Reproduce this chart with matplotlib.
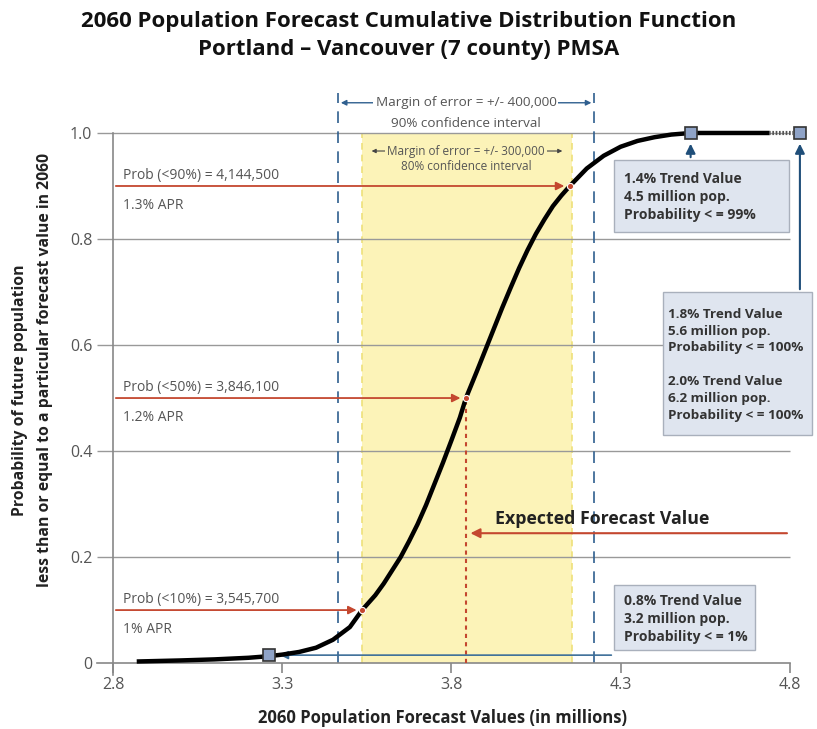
import numpy as np
import matplotlib
matplotlib.use('Agg')
import matplotlib.pyplot as plt
from matplotlib.patches import Rectangle

plt.rcParams['font.family'] = ['Open Sans', 'DejaVu Sans']

# CDF curve (population in millions, cumulative probability)
cdf_x = [2.87, 3.0, 3.1, 3.2, 3.26, 3.3, 3.35, 3.4, 3.45, 3.5, 3.536, 3.575, 3.6,
         3.625, 3.65, 3.675, 3.7, 3.725, 3.75, 3.775, 3.8, 3.825, 3.843, 3.875, 3.9,
         3.925, 3.95, 3.975, 4.0, 4.025, 4.05, 4.075, 4.1, 4.125, 4.15, 4.2, 4.25,
         4.3, 4.35, 4.4, 4.45, 4.507, 4.6, 4.74]
cdf_y = [0.003, 0.005, 0.007, 0.010, 0.013, 0.016, 0.021, 0.029, 0.044, 0.068, 0.10,
         0.128, 0.15, 0.175, 0.2, 0.23, 0.262, 0.298, 0.338, 0.378, 0.42, 0.463, 0.5,
         0.55, 0.59, 0.63, 0.67, 0.708, 0.745, 0.779, 0.81, 0.837, 0.862, 0.882, 0.9,
         0.933, 0.957, 0.974, 0.985, 0.992, 0.997, 1.0, 1.0, 1.0]

# probability markers
prob_x = [3.536, 3.843, 4.15]
prob_y = [0.1, 0.5, 0.9]
prob_label = ['Prob (<10%) = 3,545,700', 'Prob (<50%) = 3,846,100', 'Prob (<90%) = 4,144,500']
apr_label = ['1% APR', '1.2% APR', '1.3% APR']

# trend value squares
trend_x = [3.26, 4.507, 4.83]
trend_y = [0.015, 1.0, 1.0]

band80 = (3.536, 4.156)
band90 = (3.465, 4.222)
expected = 3.843

xticks = [2.8, 3.3, 3.8, 4.3, 4.8]
yticks = [0, 0.2, 0.4, 0.6, 0.8, 1.0]
ytick_labels = ['0', '0.2', '0.4', '0.6', '0.8', '1.0']

red = '#c4472f'
blue = '#1f4e79'
grey_txt = '#555555'
box_fc = '#dfe5ef'
box_ec = '#a9b0bc'

fig = plt.figure(figsize=(8.17, 7.29), dpi=100)
ax = fig.add_axes([0.1218, 0.0686, 0.8697, 0.8217])
ax.set_xlim(2.76, 4.86)
ax.set_ylim(-0.03, 1.1)

# axes
for s in ['top', 'right']:
    ax.spines[s].set_visible(False)
ax.spines['bottom'].set_position(('data', 0))
ax.spines['bottom'].set_bounds(2.753, 4.8)
ax.spines['left'].set_position(('data', 2.8))
ax.spines['left'].set_bounds(-0.023, 1.0)
for s in ['bottom', 'left']:
    ax.spines[s].set_color('#888888')
    ax.spines[s].set_linewidth(1.2)
ax.set_xticks(xticks)
ax.set_xticklabels([str(t) for t in xticks])
ax.set_yticks(yticks)
ax.set_yticklabels(ytick_labels)
ax.tick_params(axis='x', direction='out', length=7, color='#888888', width=1.2,
               labelsize=11.5, labelcolor=grey_txt, pad=3)
ax.tick_params(axis='y', length=0, labelsize=11.5, labelcolor=grey_txt, pad=15)

# gridlines
ax.hlines(yticks[1:], 2.753, 4.8, color='#999999', lw=1, zorder=1, clip_on=False)

# confidence bands
ax.axvspan(band80[0], band80[1], ymin=0.03 / 1.13, ymax=1.03 / 1.13, color='#fcf3b8', zorder=0, lw=0)
for bx in band80:
    ax.vlines(bx, 0, 1.0, color='#eee07a', lw=1.2, linestyles=(0, (4, 3)), zorder=0.5)
for bx in band90:
    ax.vlines(bx, 0, 1.075, color='#2f5f8f', lw=1.2, linestyles=(0, (7, 5)), zorder=2, clip_on=False)

# margin of error notes
ax.annotate('', xy=(band90[0], 1.057), xytext=(band90[1], 1.057),
            arrowprops=dict(arrowstyle='<|-|>', color='#2f5f8f', lw=1, mutation_scale=8), zorder=3)
ax.text(3.843, 1.057, 'Margin of error = +/- 400,000', ha='center', va='center', fontsize=9.7,
        color=grey_txt, bbox=dict(fc='white', ec='none', pad=1.5), zorder=4)
ax.text(3.843, 1.017, '90% confidence interval', ha='center', va='center', fontsize=9.7,
        color=grey_txt, zorder=4)
ax.annotate('', xy=(band80[0] + 0.02, 0.966), xytext=(band80[1] - 0.02, 0.966),
            arrowprops=dict(arrowstyle='<|-|>', color='#444444', lw=0.8, mutation_scale=6), zorder=3)
ax.text(3.843, 0.966, 'Margin of error = +/- 300,000', ha='center', va='center', fontsize=8.5,
        color=grey_txt, bbox=dict(fc='#fcf3b8', ec='none', pad=1.5), zorder=4)
ax.text(3.843, 0.936, '80% confidence interval', ha='center', va='center', fontsize=8.5,
        color=grey_txt, zorder=4)

# expected value
ax.vlines(expected, 0, 0.5, color=red, lw=1.5, linestyles=(0, (2, 2)), zorder=3)
ax.annotate('', xy=(expected + 0.005, 0.245), xytext=(4.8, 0.245),
            arrowprops=dict(arrowstyle='-|>', color=red, lw=1.5, mutation_scale=14), zorder=4)
ax.text(3.93, 0.272, 'Expected Forecast Value', fontsize=12.8, fontweight='bold',
        color='#222222', va='center', zorder=5)

# CDF curve
ax.plot(cdf_x, cdf_y, color='black', lw=3.2, solid_capstyle='butt', solid_joinstyle='round', zorder=5)
ax.plot([4.74, 4.81], [1.0, 1.0], color='#555555', lw=3, linestyle=(0, (0.4, 0.4)), zorder=5)

# probability arrows
for px, py, pl, al in zip(prob_x, prob_y, prob_label, apr_label):
    ax.annotate('', xy=(px - 0.008, py), xytext=(2.8, py),
                arrowprops=dict(arrowstyle='-|>', color=red, lw=1.3, mutation_scale=12), zorder=4)
    ax.text(2.83, py + 0.005, pl, fontsize=10, color=grey_txt, va='bottom', zorder=6)
    ax.text(2.83, py - 0.022, al, fontsize=10, color=grey_txt, va='top', zorder=6)
ax.plot(prob_x, prob_y, 'o', color=red, ms=4.5, mec='white', mew=0.8, zorder=7)

# trend value boxes
boxes = [(4.281, 0.813, 0.517, 0.136), (4.425, 0.43, 0.44, 0.27), (4.281, 0.0245, 0.416, 0.1225)]
for bx, by, bw, bh in boxes:
    ax.add_patch(Rectangle((bx, by), bw, bh, fc=box_fc, ec=box_ec, lw=1, zorder=6, clip_on=False))
txt_kw = dict(fontsize=10, fontweight='bold', color='#333333', va='center', ha='left',
              linespacing=1.33, zorder=7)
ax.text(4.31, 0.879, '1.4% Trend Value\n4.5 million pop.\nProbability < = 99%', **txt_kw)
ax.text(4.31, 0.083, '0.8% Trend Value\n3.2 million pop.\nProbability < = 1%', **txt_kw)
txt_kw.update(fontsize=9.7, linespacing=1.38)
ax.text(4.44, 0.563, '1.8% Trend Value\n5.6 million pop.\nProbability < = 100%\n\n'
        '2.0% Trend Value\n6.2 million pop.\nProbability < = 100%', **txt_kw)

# trend arrows
ax.annotate('', xy=(trend_x[1], 0.985), xytext=(trend_x[1], 0.949),
            arrowprops=dict(arrowstyle='-|>', color=blue, lw=1.5, mutation_scale=14), zorder=7)
ax.annotate('', xy=(trend_x[2], 0.985), xytext=(trend_x[2], 0.70),
            arrowprops=dict(arrowstyle='-|>', color=blue, lw=1.5, mutation_scale=14), zorder=7)
ax.annotate('', xy=(trend_x[0] + 0.025, trend_y[0]), xytext=(4.281, trend_y[0]),
            arrowprops=dict(arrowstyle='-|>', color='#3d6f99', lw=1.2, mutation_scale=12), zorder=4)
ax.plot(trend_x, trend_y, 's', ms=9, mfc='#8fa3c7', mec='#333333', mew=1.2, zorder=8, clip_on=False)

# titles and labels
fig.text(0.5, 1 - 22 / 729, '2060 Population Forecast Cumulative Distribution Function',
         ha='center', va='center', fontsize=16, fontweight='bold', color='#111111')
fig.text(0.5, 1 - 50 / 729, 'Portland \u2013 Vancouver (7 county) PMSA',
         ha='center', va='center', fontsize=16, fontweight='bold', color='#111111')
fig.text(442 / 817, 1 - 718 / 729, '2060 Population Forecast Values (in millions)',
         ha='center', va='center', fontsize=12, fontweight='bold', color='#222222')
fig.text(20 / 817, 1 - 390 / 729, 'Probability of future population',
         ha='center', va='center', rotation=90, fontsize=11.3, fontweight='bold', color='#222222')
fig.text(45 / 817, 1 - 370 / 729, 'less than or equal to a particular forecast value in 2060',
         ha='center', va='center', rotation=90, fontsize=11.3, fontweight='bold', color='#222222')

fig.savefig('out.png', dpi=100)
